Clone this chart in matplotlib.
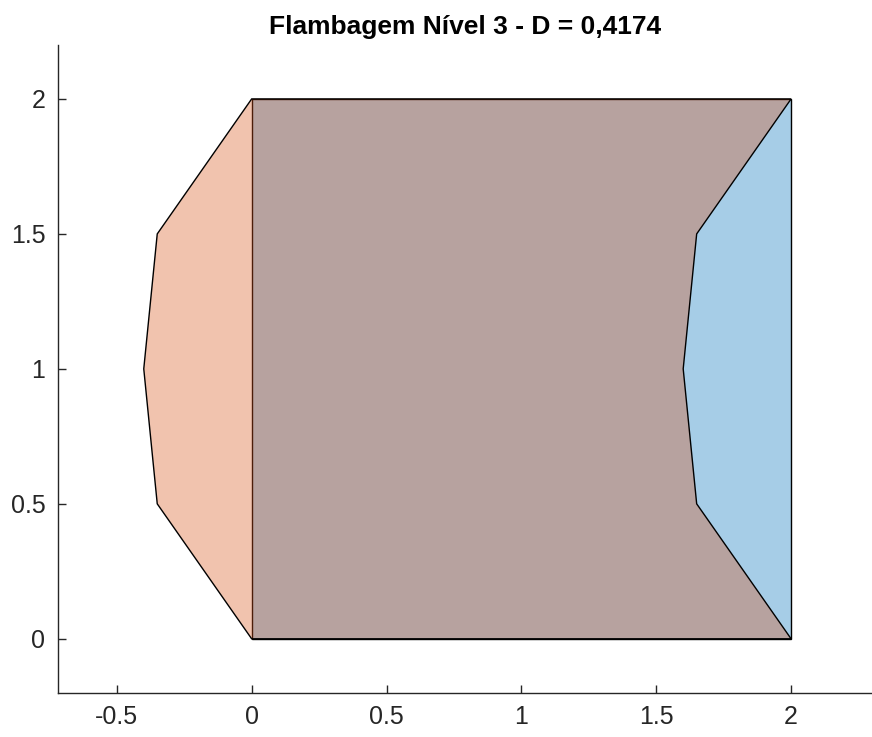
import matplotlib.pyplot as plt
from matplotlib.patches import Polygon

plt.rcParams['font.family'] = ['Liberation Sans', 'DejaVu Sans']

# undeformed section
rect_x = [0, 2, 2, 0]
rect_y = [0, 0, 2, 2]

# buckled outline, level 3
buck_x = [0, 2, 1.65, 1.60, 1.65, 2, 0, -0.35, -0.40, -0.35]
buck_y = [0, 0, 0.5, 1.0, 1.5, 2, 2, 1.5, 1.0, 0.5]

x_ticks = [-0.5, 0, 0.5, 1, 1.5, 2]
y_ticks = [0, 0.5, 1, 1.5, 2]
title = 'Flambagem Nível 3 - D = 0,4174'

BLUE = (0.0, 0.447, 0.741)
ORANGE = (0.850, 0.325, 0.098)
ALPHA = 0.35
AX_COLOR = (0.15, 0.15, 0.15)

fig = plt.figure(figsize=(8.72, 7.37), dpi=100)
ax = fig.add_axes([0.0665, 0.060, 0.9335, 0.879])

ax.add_patch(Polygon(list(zip(rect_x, rect_y)), closed=True,
                     facecolor=BLUE + (ALPHA,), edgecolor='black', linewidth=1.0))
ax.add_patch(Polygon(list(zip(buck_x, buck_y)), closed=True,
                     facecolor=ORANGE + (ALPHA,), edgecolor='black', linewidth=1.0))

ax.set_xlim(-0.718, 2.3)
ax.set_ylim(-0.2, 2.2)
ax.set_xticks(x_ticks)
ax.set_yticks(y_ticks)
ax.set_xticklabels([f'{v:g}' for v in x_ticks])
ax.set_yticklabels([f'{v:g}' for v in y_ticks])

for side in ('top', 'right'):
    ax.spines[side].set_visible(False)
for side in ('left', 'bottom'):
    ax.spines[side].set_color(AX_COLOR)
    ax.spines[side].set_linewidth(1.0)

ax.tick_params(direction='in', length=6, width=1.0, colors=AX_COLOR,
               labelsize=18, pad=9)

ax.set_title(title, fontsize=19, fontweight='bold', pad=8)

fig.savefig('out.png', dpi=100)
